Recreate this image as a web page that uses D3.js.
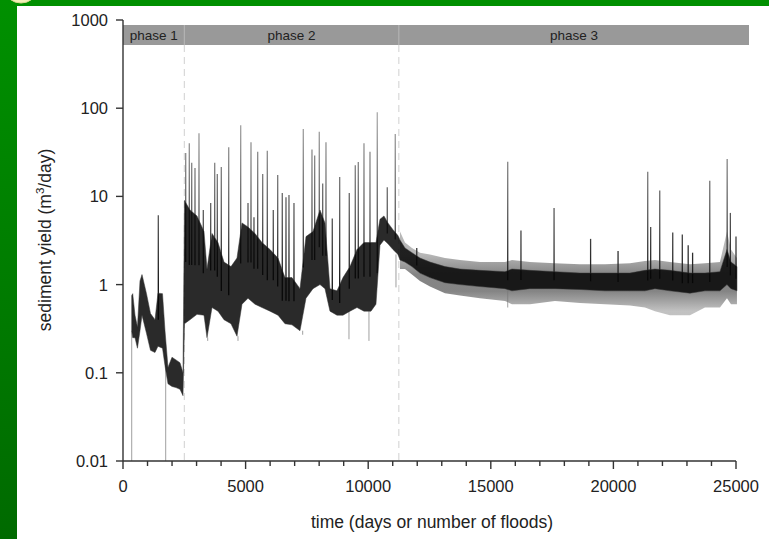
<!DOCTYPE html>
<html>
<head>
<meta charset="utf-8">
<script src="https://cdn.jsdelivr.net/npm/d3@7"></script>
<style>
  html, body { margin: 0; padding: 0; background: #fff; }
  svg { display: block; font-family: Arial, "Liberation Sans", sans-serif; }
</style>
</head>
<body>
<svg id="chart" width="769" height="539"></svg>
<script>
// phases (days)
const phaseNames = ['phase 1', 'phase 2', 'phase 3'];
const phaseBounds = [0, 2500, 11250, 25530];

// dense core of the series: time, lower and upper edge (m3/day)
const coreT  = [355, 396, 490, 590, 693, 775, 958, 1121, 1305, 1427, 1611, 1713, 1835, 1998, 2161, 2324, 2447,
  2508, 2732, 3018, 3303, 3426, 3630, 3874, 4119, 4404, 4649, 4853, 5098, 5383, 5668, 5995, 6321, 6606, 6892,
  7218, 7463, 7748, 8034, 8238, 8441, 8727, 8972, 9257, 9543, 9828, 10113, 10317, 10480, 10643, 10806, 11010, 11214,
  11296, 11500, 11785, 12111, 12519, 13131, 13743, 14558, 15578, 15863, 16597, 17617, 18636, 19656, 20675, 21287,
  21695, 22307, 23122, 23734, 24346, 24632, 24795, 25039];
const coreLo = [0.3, 0.25, 0.25, 0.19, 0.3, 0.45, 0.28, 0.18, 0.17, 0.2, 0.19, 0.12, 0.075, 0.07, 0.068, 0.065, 0.055,
  0.36, 0.4, 0.46, 0.45, 0.25, 0.55, 0.5, 0.4, 0.36, 0.26, 0.6, 0.7, 0.6, 0.55, 0.5, 0.45, 0.36, 0.35,
  0.3, 0.7, 0.9, 1.0, 0.9, 0.5, 0.45, 0.45, 0.5, 0.55, 0.5, 0.5, 0.6, 2.8, 3.2, 2.9, 2.5, 2.2,
  1.9, 1.8, 1.6, 1.35, 1.2, 1.05, 1.0, 0.95, 0.9, 0.85, 0.9, 0.9, 0.88, 0.85, 0.85, 0.85,
  0.9, 0.85, 0.8, 0.85, 0.85, 1.0, 0.9, 0.85];
const coreHi = [0.75, 0.79, 0.45, 0.33, 1.1, 1.3, 0.79, 0.47, 0.4, 0.8, 0.79, 0.3, 0.115, 0.15, 0.14, 0.13, 0.1,
  9, 7, 6, 4, 1.5, 3.8, 3, 1.8, 1.6, 2, 5, 4.5, 3.8, 3, 2.5, 2, 1.2, 1.2,
  0.9, 3.5, 4, 7, 5, 0.9, 0.85, 1.2, 1.6, 2.5, 3, 3, 3, 5.5, 6, 5, 4.2, 3.6,
  3.2, 2.6, 2.3, 2.0, 1.8, 1.6, 1.5, 1.45, 1.4, 1.5, 1.45, 1.4, 1.35, 1.35, 1.35, 1.45,
  1.5, 1.45, 1.35, 1.35, 1.4, 2.5, 1.8, 1.6];

// noisy fringe around the core in phase 3
const fringeT  = [11296, 11500, 11785, 12111, 12519, 13131, 13743, 14558, 15578, 15863, 16597, 17617, 18636, 19656,
  20675, 21287, 21695, 22307, 23122, 23734, 24346, 24632, 24795, 25039];
const fringeLo = [1.5, 1.5, 1.3, 1.1, 0.95, 0.8, 0.75, 0.7, 0.65, 0.6, 0.6, 0.65, 0.62, 0.6,
  0.58, 0.55, 0.5, 0.45, 0.45, 0.55, 0.55, 0.7, 0.6, 0.6];
const fringeHi = [4, 3, 2.6, 2.3, 2.2, 2.0, 1.9, 1.8, 1.8, 1.9, 1.8, 1.75, 1.7, 1.7,
  1.75, 1.85, 1.9, 1.8, 1.7, 1.75, 1.8, 4, 2.5, 2.0];

// flood peaks
const spikeT = [1440, 2557, 2704, 2802, 2936, 3099, 3275, 3576, 3740, 3846, 4009, 4311, 4800, 5098, 5220, 5342, 5493,
  5697, 5885, 6129, 6309, 6496, 6647, 6769, 6973, 7353, 7707, 7817, 8005, 8144, 8278, 8535, 8837, 9228, 9473,
  9596, 9828, 10073, 10370, 10778, 11104,
  11980, 15690, 16230, 17580, 19070, 20190, 21400, 21520, 21890, 22420, 22810, 23050, 23230, 23930, 24640, 24770, 25000];
const spikeV = [6.1, 31, 40, 24, 21, 52, 7, 8.4, 24, 18, 21.5, 36, 64, 8.4, 41, 5.8, 32,
  18, 33, 7, 17.5, 10.9, 9.8, 10.4, 8.4, 58, 34, 29, 54, 14, 41, 5.6, 16.6, 10.9, 22.6,
  24.6, 40, 32, 90, 12.7, 51,
  2.6, 24.7, 4.1, 7.4, 3.3, 2.4, 19, 4.5, 11.7, 3.9, 3.7, 2.8, 2.3, 15, 26.5, 6.5, 3.5];

// low drops below the core
const dipT = [355, 1741, 3454, 4690, 7328, 9216, 10031, 11133, 15690];
const dipV = [0.005, 0.005, 0.23, 0.23, 0.27, 0.24, 0.23, 0.93, 0.55];

const yTicks = [0.01, 0.1, 1, 10, 100, 1000];
const yTickLabels = ['0.01', '0.1', '1', '10', '100', '1000'];
const xTicks = [0, 5000, 10000, 15000, 20000, 25000];
const xMinor = d3.range(0, 25001, 1000);

const svg = d3.select('#chart');
const W = 769, H = 539;

const x = d3.scaleLinear().domain([0, 25000]).range([123, 736]);
const y = d3.scaleLog().domain([0.01, 1000]).range([461, 20]);

// slide background
const defs = svg.append('defs');
const grad = defs.append('linearGradient').attr('id', 'gside').attr('x1', 0).attr('y1', 0).attr('x2', 0).attr('y2', 1);
grad.append('stop').attr('offset', '0%').attr('stop-color', '#009000');
grad.append('stop').attr('offset', '100%').attr('stop-color', '#006a00');

// peaks fade from black near the core to grey at the top
const sg = defs.append('linearGradient').attr('id', 'gspike').attr('gradientUnits', 'userSpaceOnUse')
  .attr('x1', 0).attr('x2', 0).attr('y1', y(1)).attr('y2', y(80));
sg.append('stop').attr('offset', '0%').attr('stop-color', '#111');
sg.append('stop').attr('offset', '40%').attr('stop-color', '#555');
sg.append('stop').attr('offset', '100%').attr('stop-color', '#aaa');

// fringe: dark next to the core, lighter at its outer edges
const fg = defs.append('linearGradient').attr('id', 'gfringe').attr('gradientUnits', 'userSpaceOnUse')
  .attr('x1', 0).attr('x2', 0).attr('y1', y(2.2)).attr('y2', y(0.5));
fg.append('stop').attr('offset', '0%').attr('stop-color', '#888');
fg.append('stop').attr('offset', '35%').attr('stop-color', '#333');
fg.append('stop').attr('offset', '65%').attr('stop-color', '#333');
fg.append('stop').attr('offset', '100%').attr('stop-color', '#999');

svg.append('rect').attr('width', W).attr('height', H).attr('fill', '#fff');
svg.append('rect').attr('x', 0).attr('y', 0).attr('width', W).attr('height', 6).attr('fill', '#009000');
svg.append('rect').attr('x', 0).attr('y', 0).attr('width', 17).attr('height', H).attr('fill', 'url(#gside)');
svg.append('ellipse').attr('cx', 21).attr('cy', -9).attr('rx', 15).attr('ry', 12)
  .attr('fill', '#f2f0b8').attr('stroke', '#d8d890').attr('stroke-width', 1);

defs.append('clipPath').attr('id', 'plot')
  .append('rect').attr('x', 123).attr('y', 20).attr('width', 640).attr('height', 441);

// phase bar
const barTop = 25, barBot = 45;
svg.append('rect').attr('x', x(phaseBounds[0])).attr('y', barTop)
  .attr('width', x(phaseBounds[3]) - x(phaseBounds[0])).attr('height', barBot - barTop)
  .attr('fill', '#999');
phaseNames.forEach(function (name, i) {
  const a = phaseBounds[i], b = phaseBounds[i + 1];
  svg.append('text').attr('x', (x(a) + x(b)) / 2).attr('y', barTop + 15)
    .attr('text-anchor', 'middle').attr('font-size', 13.5).attr('fill', '#222').text(name);
  if (i > 0) {
    svg.append('line').attr('x1', x(a)).attr('x2', x(a)).attr('y1', barTop).attr('y2', barBot)
      .attr('stroke', '#b8b8b8').attr('stroke-width', 1);
    svg.append('line').attr('x1', x(a)).attr('x2', x(a)).attr('y1', barBot).attr('y2', 461)
      .attr('stroke', '#d0d0d0').attr('stroke-width', 1).attr('stroke-dasharray', '7,5');
  }
});

const g = svg.append('g').attr('clip-path', 'url(#plot)');

function nearest(t) {
  let best = 0;
  for (let i = 1; i < coreT.length; i += 1) {
    if (Math.abs(coreT[i] - t) < Math.abs(coreT[best] - t)) best = i;
  }
  return best;
}

// fringe
const fringe = fringeT.map(function (t, i) { return { t: t, lo: fringeLo[i], hi: fringeHi[i] }; });
g.append('path').datum(fringe)
  .attr('d', d3.area().x(function (d) { return x(d.t); }).y0(function (d) { return y(d.lo); }).y1(function (d) { return y(d.hi); }))
  .attr('fill', 'url(#gfringe)').attr('fill-opacity', 0.6);

// flood peaks
g.append('g').selectAll('line').data(spikeT).join('line')
  .attr('x1', function (t) { return x(t); }).attr('x2', function (t) { return x(t); })
  .attr('y1', function (t, i) { return y(spikeV[i]); })
  .attr('y2', function (t) { const k = nearest(t); return y(Math.sqrt(coreLo[k] * coreHi[k])); })
  .attr('stroke', 'url(#gspike)').attr('stroke-width', 1.3);

// drops
g.append('g').selectAll('line').data(dipT).join('line')
  .attr('x1', function (t) { return x(t); }).attr('x2', function (t) { return x(t); })
  .attr('y1', function (t, i) { return y(dipV[i]); })
  .attr('y2', function (t) { return y(coreLo[nearest(t)]); })
  .attr('stroke', '#777').attr('stroke-opacity', 0.7).attr('stroke-width', 1);

// dense core
const core = coreT.map(function (t, i) { return { t: t, lo: coreLo[i], hi: coreHi[i] }; });
g.append('path').datum(core)
  .attr('d', d3.area().x(function (d) { return x(d.t); }).y0(function (d) { return y(d.lo); }).y1(function (d) { return y(d.hi); }))
  .attr('fill', '#050505').attr('fill-opacity', 0.85)
  .attr('stroke', '#333').attr('stroke-width', 1).attr('stroke-opacity', 0.5);

// axes
const axisColor = '#333';
svg.append('line').attr('x1', 123).attr('x2', 123).attr('y1', 20).attr('y2', 461)
  .attr('stroke', axisColor).attr('stroke-width', 1.4);
svg.append('line').attr('x1', 123).attr('x2', 736).attr('y1', 461).attr('y2', 461)
  .attr('stroke', axisColor).attr('stroke-width', 1.4);

yTicks.forEach(function (v, i) {
  svg.append('line').attr('x1', 116).attr('x2', 123).attr('y1', y(v)).attr('y2', y(v))
    .attr('stroke', axisColor).attr('stroke-width', 1.4);
  svg.append('text').attr('x', 108).attr('y', y(v)).attr('dy', '0.36em')
    .attr('text-anchor', 'end').attr('font-size', 16.5).attr('fill', '#222').text(yTickLabels[i]);
});

xMinor.forEach(function (t) {
  const major = t % 5000 === 0;
  svg.append('line').attr('x1', x(t)).attr('x2', x(t)).attr('y1', 461).attr('y2', 461 + (major ? 8 : 5))
    .attr('stroke', axisColor).attr('stroke-width', 1.4);
});
xTicks.forEach(function (t) {
  svg.append('text').attr('x', x(t)).attr('y', 492)
    .attr('text-anchor', 'middle').attr('font-size', 16.5).attr('fill', '#222').text(String(t));
});

svg.append('text').attr('x', 432).attr('y', 528).attr('text-anchor', 'middle')
  .attr('font-size', 17.5).attr('fill', '#222').text('time (days or number of floods)');

const yl = svg.append('text').attr('transform', 'translate(51,240) rotate(-90)')
  .attr('text-anchor', 'middle').attr('font-size', 17.5).attr('fill', '#222');
yl.append('tspan').text('sediment yield (m');
yl.append('tspan').attr('font-size', 11.5).attr('dy', -7).text('3');
yl.append('tspan').attr('dy', 7).text('/day)');
</script>
</body>
</html>
